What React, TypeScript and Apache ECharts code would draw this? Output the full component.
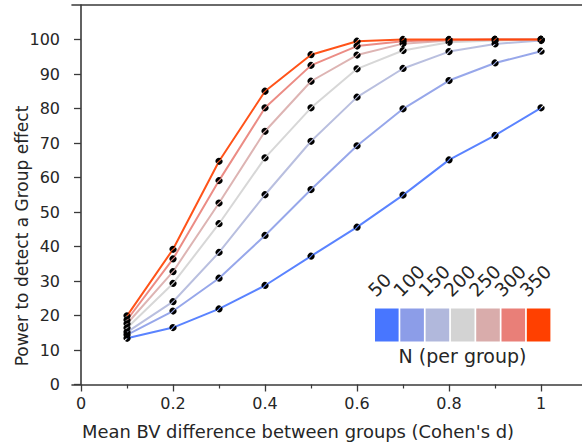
import React, { useEffect, useRef } from "react";
import * as echarts from "echarts";

const cohenD = [0.1, 0.2, 0.3, 0.4, 0.5, 0.6, 0.7, 0.8, 0.9, 1.0];
const groupSizes = [50, 100, 150, 200, 250, 300, 350];
const power50 = [13.4, 16.5, 21.9, 28.7, 37.2, 45.6, 54.9, 65.1, 72.2, 80.2];
const power100 = [14.4, 21.3, 30.8, 43.2, 56.5, 69.2, 79.9, 88.1, 93.2, 96.6];
const power150 = [15.2, 24.0, 38.3, 55.0, 70.5, 83.3, 91.6, 96.5, 98.7, 99.7];
const power200 = [16.4, 29.3, 46.6, 65.7, 80.2, 91.5, 96.8, 99.2, 99.7, 100];
const power250 = [17.6, 32.7, 52.6, 73.4, 87.9, 95.5, 98.8, 99.7, 100, 100];
const power300 = [18.7, 36.4, 59.1, 80.2, 92.5, 98.1, 99.5, 99.9, 100, 100];
const power350 = [19.9, 39.2, 64.7, 85.0, 95.6, 99.5, 100, 100, 100, 100];
const powerSeries = [power50, power100, power150, power200, power250, power300, power350];
const groupColors = ["#4876ff", "#8c9de8", "#b1b8dc", "#d3d3d3", "#d9acab", "#e97f78", "#ff4000"];
const xTickLabels = [0, 0.2, 0.4, 0.6, 0.8, 1];
const xMinorTicks = [0.1, 0.3, 0.5, 0.7, 0.9];
const yTickLabels = [0, 10, 20, 30, 40, 50, 60, 70, 80, 90, 100];

const FONT = "DejaVu Sans";
const TEXT = "#262626";
const AXIS = "#3a3a3a";
const MARKER =
  "path://M1.948 15.93A10 10 0 0 1 15.93 1.948ZM18.05 4.07A10 10 0 0 1 4.07 18.05Z";
const X_MIN = -0.0196;
const X_MAX = 1.089;

export default function App() {
  const ref = useRef<HTMLDivElement>(null);
  useEffect(() => {
    if (!ref.current) return;
    const chart = echarts.init(ref.current, undefined, { renderer: "svg" });

    const boxLeft = 375;
    const boxStep = 25.3;
    const boxW = 23.6;
    const boxTop = 308.5;
    const boxH = 33;
    const legendGraphics: any[] = [];
    groupSizes.forEach((n, i) => {
      const x = boxLeft + i * boxStep;
      legendGraphics.push({
        type: "rect",
        shape: { x, y: boxTop, width: boxW, height: boxH },
        style: { fill: groupColors[i] },
        z: 100,
      });
      legendGraphics.push({
        type: "text",
        x: x + 3,
        y: 300,
        rotation: Math.PI / 4,
        style: {
          text: String(n),
          font: `18.5px '${FONT}'`,
          fill: TEXT,
          textAlign: "left",
          textVerticalAlign: "bottom",
        },
        z: 100,
      });
    });
    legendGraphics.push({
      type: "text",
      x: boxLeft + (groupSizes.length * boxStep) / 2 - 1,
      y: 356,
      style: {
        text: "N (per group)",
        font: `19px '${FONT}'`,
        fill: TEXT,
        textAlign: "center",
        textVerticalAlign: "middle",
      },
      z: 100,
    });
    legendGraphics.push({
      type: "text",
      x: 298,
      y: 431,
      style: {
        text: "Mean BV difference between groups (Cohen's d)",
        font: `17.9px '${FONT}'`,
        fill: TEXT,
        textAlign: "center",
        textVerticalAlign: "middle",
      },
    });
    legendGraphics.push({
      type: "text",
      x: 22,
      y: 236,
      rotation: Math.PI / 2,
      style: {
        text: "Power to detect a Group effect",
        font: `17px '${FONT}'`,
        fill: TEXT,
        textAlign: "center",
        textVerticalAlign: "middle",
      },
    });

    const series = groupSizes.map((n, i) => ({
      name: String(n),
      type: "line",
      data: cohenD.map((d, j) => [d, powerSeries[i][j]]),
      symbol: MARKER,
      symbolSize: 7,
      showSymbol: true,
      itemStyle: { color: "#000" },
      lineStyle: { color: groupColors[i], width: 2, opacity: 0.9 },
      z: 2 + i,
    }));

    chart.setOption({
      animation: false,
      grid: { left: 72, top: 5, right: 0, bottom: 61.5, containLabel: false },
      xAxis: [
        {
          type: "value",
          min: X_MIN,
          max: X_MAX,
          position: "bottom",
          axisLine: { show: true, onZero: false, lineStyle: { color: AXIS, width: 1.6 } },
          axisTick: {
            show: true,
            customValues: xTickLabels,
            length: 7,
            lineStyle: { color: AXIS, width: 1.3 },
          },
          axisLabel: {
            customValues: xTickLabels,
            formatter: (v: number) => String(v),
            fontFamily: FONT,
            fontSize: 16,
            color: TEXT,
            margin: 11,
          },
          splitLine: { show: false },
        },
        {
          type: "value",
          min: X_MIN,
          max: X_MAX,
          position: "bottom",
          axisLine: { show: false },
          axisTick: {
            show: true,
            customValues: xMinorTicks,
            length: 4,
            lineStyle: { color: AXIS, width: 1.2 },
          },
          axisLabel: { show: false },
          splitLine: { show: false },
        },
        {
          type: "value",
          min: X_MIN,
          max: X_MAX,
          position: "top",
          axisLine: { show: true, onZero: false, lineStyle: { color: AXIS, width: 1.6 } },
          axisTick: { show: false },
          axisLabel: { show: false },
          splitLine: { show: false },
        },
      ],
      yAxis: {
        type: "value",
        min: 0,
        max: 110,
        axisLine: { show: true, onZero: true, lineStyle: { color: AXIS, width: 1.6 } },
        axisTick: {
          show: true,
          customValues: yTickLabels,
          length: 7,
          lineStyle: { color: AXIS, width: 1.3 },
        },
        axisLabel: {
          customValues: yTickLabels,
          fontFamily: FONT,
          fontSize: 16,
          color: TEXT,
          margin: 12,
        },
        splitLine: { show: false },
      },
      series,
      graphic: legendGraphics,
    });
    return () => chart.dispose();
  }, []);
  return (
    <div
      ref={ref}
      style={{ position: "fixed", left: 0, top: 0, width: 582, height: 446, background: "#fff" }}
    />
  );
}
